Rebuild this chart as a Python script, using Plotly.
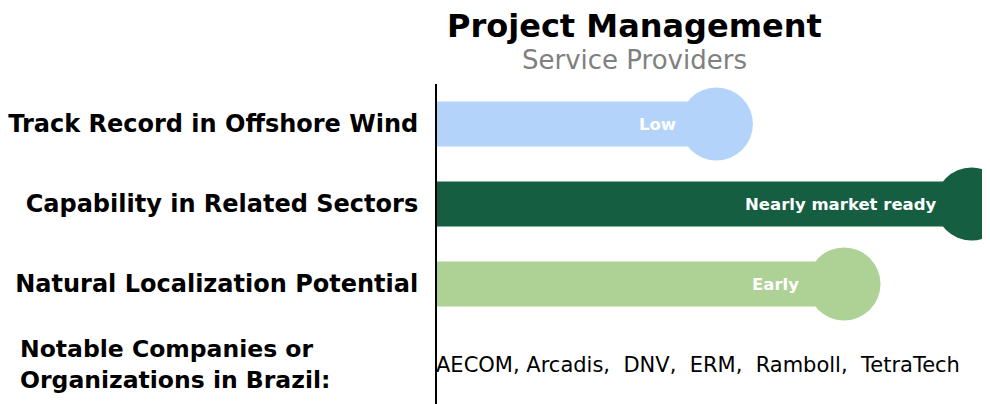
import plotly.graph_objects as go

categories = ["Track Record in Offshore Wind", "Capability in Related Sectors", "Natural Localization Potential"]
levels = [2, 4, 3]
level_labels = ["Low", "Nearly market ready", "Early"]
colors = ["#B4D3FA", "#155E42", "#AED196"]
label_shifts = [-38, -33, -43]
notable_key = "notable"
companies_label = "Notable Companies or<br>Organizations in Brazil:"
companies = "AECOM, Arcadis,  DNV,  ERM,  Ramboll,  TetraTech"
title = "Project Management"
subtitle = "Service Providers"

x_min, x_max = -0.19, 4.207
FONT = "DejaVu Sans"

L, T, B = 427, 76, 8
PW = 990 - L
PH = 404 - T - B

fig = go.Figure()
fig.add_trace(go.Bar(
    y=categories, x=[v - x_min for v in levels], base=x_min, orientation="h",
    marker=dict(color=colors, line=dict(width=0)), width=0.5625, hoverinfo="skip",
))
fig.add_trace(go.Scatter(
    y=categories, x=levels, mode="markers",
    marker=dict(size=73, color=colors, line=dict(width=0)), hoverinfo="skip",
))

for cat, v, lab, sh in zip(categories, levels, level_labels, label_shifts):
    fig.add_annotation(x=v, y=cat, text=lab, showarrow=False, xanchor="right",
                       xshift=sh, font=dict(family=FONT, size=16.5, color="white", weight="bold"))

fig.add_annotation(x=x_min, y=notable_key, text=companies, showarrow=False, xanchor="left",
                   xshift=-3, yshift=-1, font=dict(family=FONT, size=21, color="black"))
fig.add_annotation(xref="paper", x=(8 - L) / PW, y=notable_key, text=companies_label,
                   showarrow=False, xanchor="left", align="left", borderpad=0,
                   font=dict(family=FONT, size=23.5, color="black", weight="bold"))
fig.add_annotation(xref="paper", yref="paper", x=(625 - L) / PW, y=1 + (T - 18) / PH,
                   text=title, showarrow=False, xanchor="center", yanchor="middle", borderpad=0,
                   font=dict(family=FONT, size=32, color="black", weight="bold"))
fig.add_annotation(xref="paper", yref="paper", x=(625 - L) / PW, y=1 + (T - 52) / PH,
                   text=subtitle, showarrow=False, xanchor="center", yanchor="middle",
                   font=dict(family=FONT, size=26, color="#808080"))

fig.update_layout(
    width=990, height=404, margin=dict(l=L, r=0, t=T, b=B),
    plot_bgcolor="white", paper_bgcolor="white", showlegend=False,
    xaxis=dict(range=[x_min, x_max], visible=False, showgrid=False, zeroline=False),
    yaxis=dict(type="category", categoryorder="array", categoryarray=categories + [notable_key],
               range=[3.5, -0.5], tickvals=categories, ticktext=categories,
               showline=True, linecolor="black", linewidth=2, showgrid=False, ticks="",
               ticklabelstandoff=12,
               tickfont=dict(family=FONT, size=24, color="black", weight="bold")),
)

fig.write_html("out.html")
